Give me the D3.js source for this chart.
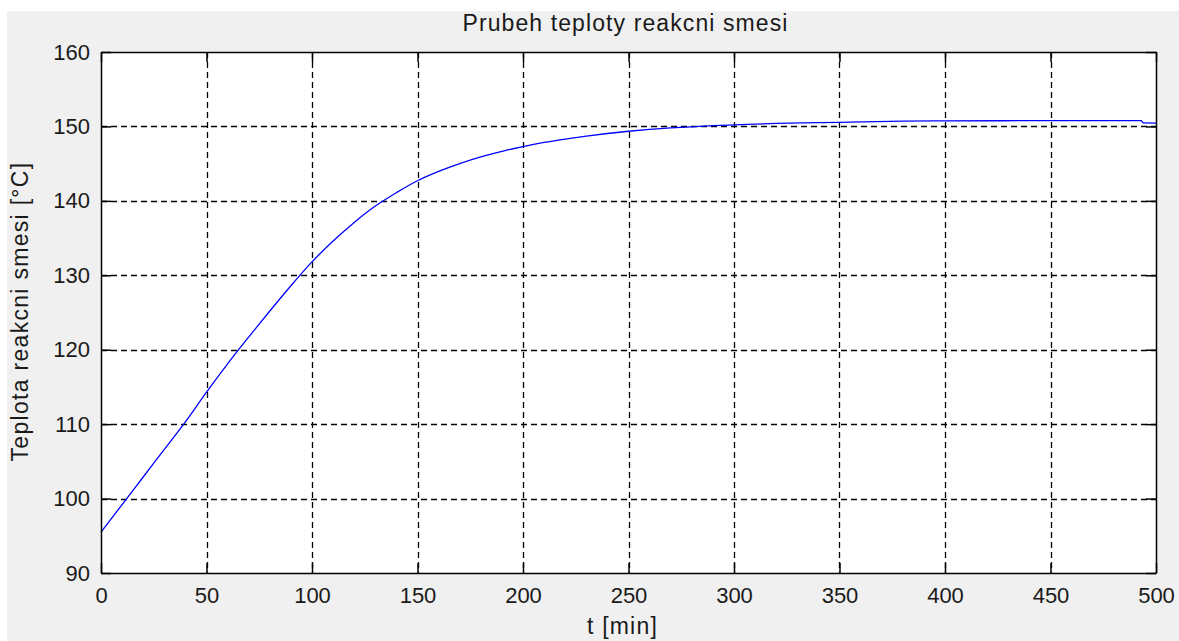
<!DOCTYPE html>
<html>
<head>
<meta charset="utf-8">
<script src="https://cdn.jsdelivr.net/npm/d3@7"></script>
<style>
  body { margin: 0; background: #ffffff; }
  text { font-family: "Liberation Sans", Arial, sans-serif; fill: #1a1a1a; }
</style>
</head>
<body>
<div id="chart"></div>
<script>
// data
var tValues = [0, 10, 20, 30, 40, 50, 60, 70, 80, 90, 100, 110, 120, 130, 140, 150, 160, 170, 180, 190,
  200, 210, 220, 230, 240, 250, 260, 270, 280, 290, 300, 320, 340, 360, 380, 400, 450, 493, 494, 500];
var tempValues = [95.5, 99.2, 102.9, 106.6, 110.3, 114.3, 118.1, 121.7, 125.2, 128.6, 131.8, 134.6, 137.1,
  139.3, 141.1, 142.7, 143.95, 145.0, 145.9, 146.65, 147.3, 147.85, 148.3, 148.7, 149.05, 149.35, 149.6,
  149.8, 149.95, 150.1, 150.2, 150.4, 150.5, 150.6, 150.7, 150.75, 150.77, 150.77, 150.47, 150.45];
var xTicks = [0, 50, 100, 150, 200, 250, 300, 350, 400, 450, 500];
var yTicks = [90, 100, 110, 120, 130, 140, 150, 160];

var width = 1179;
var height = 641;

// plot box
var plotLeft = 101, plotRight = 1156, plotTop = 52, plotBottom = 573;
var tickLen = 10;

var svg = d3.select("#chart")
  .append("svg")
  .attr("width", width)
  .attr("height", height);

// grey figure background
svg.append("rect")
  .attr("x", 7)
  .attr("y", 11)
  .attr("width", width - 7)
  .attr("height", height - 11)
  .attr("fill", "#f0f0f0");

var xScale = d3.scaleLinear().domain([0, 500]).range([plotLeft, plotRight]);
var yScale = d3.scaleLinear().domain([90, 160]).range([plotBottom, plotTop]);

// white axes area
svg.append("rect")
  .attr("x", plotLeft)
  .attr("y", plotTop)
  .attr("width", plotRight - plotLeft)
  .attr("height", plotBottom - plotTop)
  .attr("fill", "#ffffff");

// dashed grid
var grid = svg.append("g").attr("class", "grid");
grid.selectAll("line.gx")
  .data(xTicks.slice(1, -1))
  .enter()
  .append("line")
  .attr("x1", function(d) { return Math.round(xScale(d)) + 0.5; })
  .attr("x2", function(d) { return Math.round(xScale(d)) + 0.5; })
  .attr("y1", plotTop)
  .attr("y2", plotBottom)
  .attr("stroke", "#000")
  .attr("stroke-width", 1.3)
  .attr("stroke-dasharray", "6,4");
grid.selectAll("line.gy")
  .data(yTicks.slice(1, -1))
  .enter()
  .append("line")
  .attr("x1", plotLeft)
  .attr("x2", plotRight)
  .attr("y1", function(d) { return Math.round(yScale(d)) + 0.5; })
  .attr("y2", function(d) { return Math.round(yScale(d)) + 0.5; })
  .attr("stroke", "#000")
  .attr("stroke-width", 1.3)
  .attr("stroke-dasharray", "6,4");

// the temperature curve
var line = d3.line()
  .x(function(d, i) { return xScale(tValues[i]); })
  .y(function(d) { return yScale(d); })
  .curve(d3.curveMonotoneX);

svg.append("path")
  .datum(tempValues)
  .attr("d", line)
  .attr("fill", "none")
  .attr("stroke", "#0000ff")
  .attr("stroke-width", 1.3);

// axes on all four sides, ticks pointing inward
var xAxisBottom = d3.axisBottom(xScale).tickValues(xTicks).tickSizeInner(-tickLen).tickSizeOuter(0).tickPadding(14);
var xAxisTop = d3.axisTop(xScale).tickValues(xTicks).tickSizeInner(-tickLen).tickSizeOuter(0).tickFormat("");
var yAxisLeft = d3.axisLeft(yScale).tickValues(yTicks).tickSizeInner(-tickLen).tickSizeOuter(0).tickPadding(11);
var yAxisRight = d3.axisRight(yScale).tickValues(yTicks).tickSizeInner(-tickLen).tickSizeOuter(0).tickFormat("");

function styleAxis(g) {
  g.select(".domain").attr("stroke", "#000").attr("stroke-width", 1.5);
  g.selectAll(".tick line").attr("stroke", "#000").attr("stroke-width", 1.5);
  g.selectAll(".tick text").attr("font-size", 22).attr("fill", "#1a1a1a")
    .attr("font-family", "Liberation Sans, Arial, sans-serif");
}

svg.append("g")
  .attr("class", "xAxis")
  .attr("transform", "translate(0," + plotBottom + ")")
  .call(xAxisBottom)
  .call(styleAxis);
svg.append("g")
  .attr("transform", "translate(0," + plotTop + ")")
  .call(xAxisTop)
  .call(styleAxis);
svg.append("g")
  .attr("class", "yAxis")
  .attr("transform", "translate(" + plotLeft + ",0)")
  .call(yAxisLeft)
  .call(styleAxis);
svg.append("g")
  .attr("transform", "translate(" + plotRight + ",0)")
  .call(yAxisRight)
  .call(styleAxis);

// title and labels
svg.append("text")
  .attr("x", (plotLeft + plotRight) / 2 - 3)
  .attr("y", 31)
  .attr("text-anchor", "middle")
  .attr("font-size", 23)
  .attr("letter-spacing", 1.1)
  .text("Prubeh teploty reakcni smesi");

svg.append("text")
  .attr("x", (plotLeft + plotRight) / 2 - 6)
  .attr("y", 634)
  .attr("text-anchor", "middle")
  .attr("font-size", 23)
  .attr("letter-spacing", 1.2)
  .text("t [min]");

svg.append("text")
  .attr("transform", "translate(28," + ((plotTop + plotBottom) / 2 - 1) + ") rotate(-90)")
  .attr("text-anchor", "middle")
  .attr("font-size", 23)
  .attr("letter-spacing", 1.3)
  .text("Teplota reakcni smesi [°C]");
</script>
</body>
</html>
